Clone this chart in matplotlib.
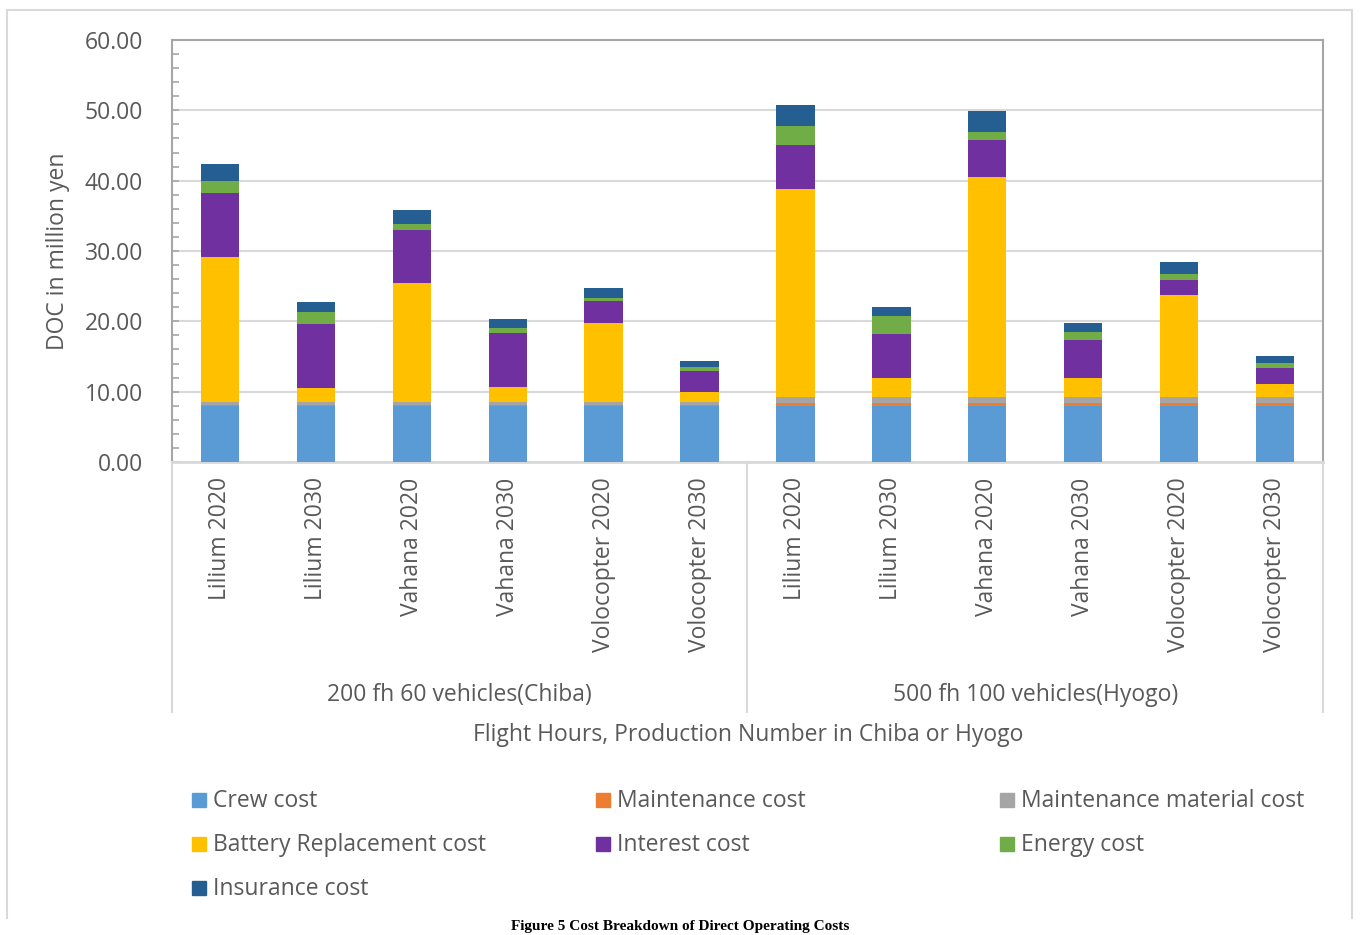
import matplotlib
matplotlib.use("Agg")
import matplotlib.pyplot as plt
from matplotlib.lines import Line2D
from matplotlib.patches import Rectangle
import numpy as np

plt.rcParams['font.family'] = ['Open Sans', 'DejaVu Sans']

categories = ["Lilium 2020", "Lilium 2030", "Vahana 2020", "Vahana 2030",
              "Volocopter 2020", "Volocopter 2030",
              "Lilium 2020", "Lilium 2030", "Vahana 2020", "Vahana 2030",
              "Volocopter 2020", "Volocopter 2030"]
groups = ["200 fh 60 vehicles(Chiba)", "500 fh 100 vehicles(Hyogo)"]

crew = [8.0, 8.0, 8.0, 8.0, 8.0, 8.0, 8.0, 8.0, 8.0, 8.0, 8.0, 8.0]
maintenance = [0.15, 0.15, 0.15, 0.15, 0.15, 0.15, 0.35, 0.35, 0.35, 0.35, 0.35, 0.35]
material = [0.45, 0.45, 0.45, 0.45, 0.45, 0.45, 0.95, 0.95, 0.95, 0.95, 0.95, 0.95]
battery = [20.5, 1.97, 16.8, 2.1, 11.1, 1.35, 29.56, 2.7, 31.2, 2.7, 14.4, 1.8]
interest = [9.1, 9.1, 7.6, 7.6, 3.15, 3.0, 6.25, 6.2, 5.3, 5.35, 2.2, 2.2]
energy = [1.75, 1.7, 0.9, 0.75, 0.45, 0.57, 2.7, 2.56, 1.1, 1.15, 0.8, 0.8]
insurance = [2.45, 1.35, 2.0, 1.25, 1.5, 0.85, 2.9, 1.34, 3.0, 1.2, 1.7, 1.0]

series_names = ["Crew cost", "Maintenance cost", "Maintenance material cost",
                "Battery Replacement cost", "Interest cost", "Energy cost",
                "Insurance cost"]
series_values = [crew, maintenance, material, battery, interest, energy, insurance]
series_colors = ["#5B9BD5", "#ED7D31", "#A5A5A5", "#FFC000", "#7030A0",
                 "#70AD47", "#255E91"]

W, H = 1361, 935
FS = 16.5
TXT = '#595959'
fig = plt.figure(figsize=(W / 100, H / 100), dpi=100)

def fx(x):
    return x / W

def fy(y):
    return 1 - y / H

ax_l, ax_r, ax_t, ax_b = 172, 1323, 40, 462
ax = fig.add_axes([fx(ax_l), fy(ax_b), fx(ax_r - ax_l), (ax_b - ax_t) / H])

x = np.arange(len(categories))
bottom = np.zeros(len(categories))
for name, vals, col in zip(series_names, series_values, series_colors):
    v = np.array(vals)
    ax.bar(x, v, bottom=bottom, width=0.4, color=col, edgecolor='none',
           label=name, zorder=3)
    bottom += v

ax.set_xlim(-0.5, len(categories) - 0.5)
ax.set_ylim(0, 60)
ax.set_yticks(np.arange(0, 61, 10))
ax.set_yticklabels([f"{v:.2f}" for v in np.arange(0, 61, 10)])
ax.set_yticks(np.arange(0, 61, 2), minor=True)
ax.tick_params(axis='y', which='major', direction='in', length=5, width=1.2,
               color='#A6A6A6', labelsize=FS, labelcolor=TXT, pad=21)
ax.tick_params(axis='y', which='minor', direction='in', length=5, width=1.2,
               color='#A6A6A6')
ax.set_xticks(x)
ax.set_xticklabels(categories, rotation=90, va='top', ha='center')
ax.tick_params(axis='x', length=0, labelsize=FS, labelcolor=TXT, pad=11)
ax.grid(axis='y', which='major', color='#D9D9D9', linewidth=1.5, zorder=0)
for s in ['left', 'right', 'top']:
    ax.spines[s].set_color('#A6A6A6')
    ax.spines[s].set_linewidth(1.5)
ax.spines['bottom'].set_color('#D9D9D9')
ax.spines['bottom'].set_linewidth(2)

# category group separators below axis
for xp in [ax_l, (ax_l + ax_r) / 2, ax_r]:
    fig.add_artist(Line2D([fx(xp), fx(xp)], [fy(ax_b), fy(712)],
                          transform=fig.transFigure, color='#D9D9D9', lw=1.5))

fig.text(fx((ax_l + (ax_l + ax_r) / 2) / 2), fy(695), groups[0], ha='center',
         va='center', fontsize=FS, color=TXT)
fig.text(fx(((ax_l + ax_r) / 2 + ax_r) / 2), fy(695), groups[1], ha='center',
         va='center', fontsize=FS, color=TXT)
fig.text(fx(748), fy(735), "Flight Hours, Production Number in Chiba or Hyogo",
         ha='center', va='center', fontsize=FS, color=TXT)
fig.text(fx(58), fy(251), "DOC in million yen", rotation=90, ha='center',
         va='center', fontsize=FS, color=TXT)

# legend (row-wise layout, 3 columns)
col_x = [192, 596, 1000]
row_y = [800, 844, 888]
for i, (name, col) in enumerate(zip(series_names, series_colors)):
    cx = col_x[i % 3]
    cy = row_y[i // 3]
    fig.add_artist(Rectangle((fx(cx), fy(cy + 7)), fx(14), 14 / H,
                             transform=fig.transFigure, color=col))
    fig.text(fx(cx + 21), fy(cy + 1), name, ha='left', va='center', fontsize=FS,
             color=TXT)

# outer chart border
for seg in [((7, 10), (1352, 10)), ((7, 10), (7, 918)), ((1352, 10), (1352, 918))]:
    (x0, y0), (x1, y1) = seg
    fig.add_artist(Line2D([fx(x0), fx(x1)], [fy(y0), fy(y1)],
                          transform=fig.transFigure, color='#D9D9D9', lw=1.5))

fig.text(fx(680), fy(933), "Figure 5 Cost Breakdown of Direct Operating Costs",
         ha='center', va='bottom', fontsize=11, fontweight='bold',
         family=['Liberation Serif', 'DejaVu Serif'], color='black')

fig.savefig("out.png", dpi=100, facecolor='white')
